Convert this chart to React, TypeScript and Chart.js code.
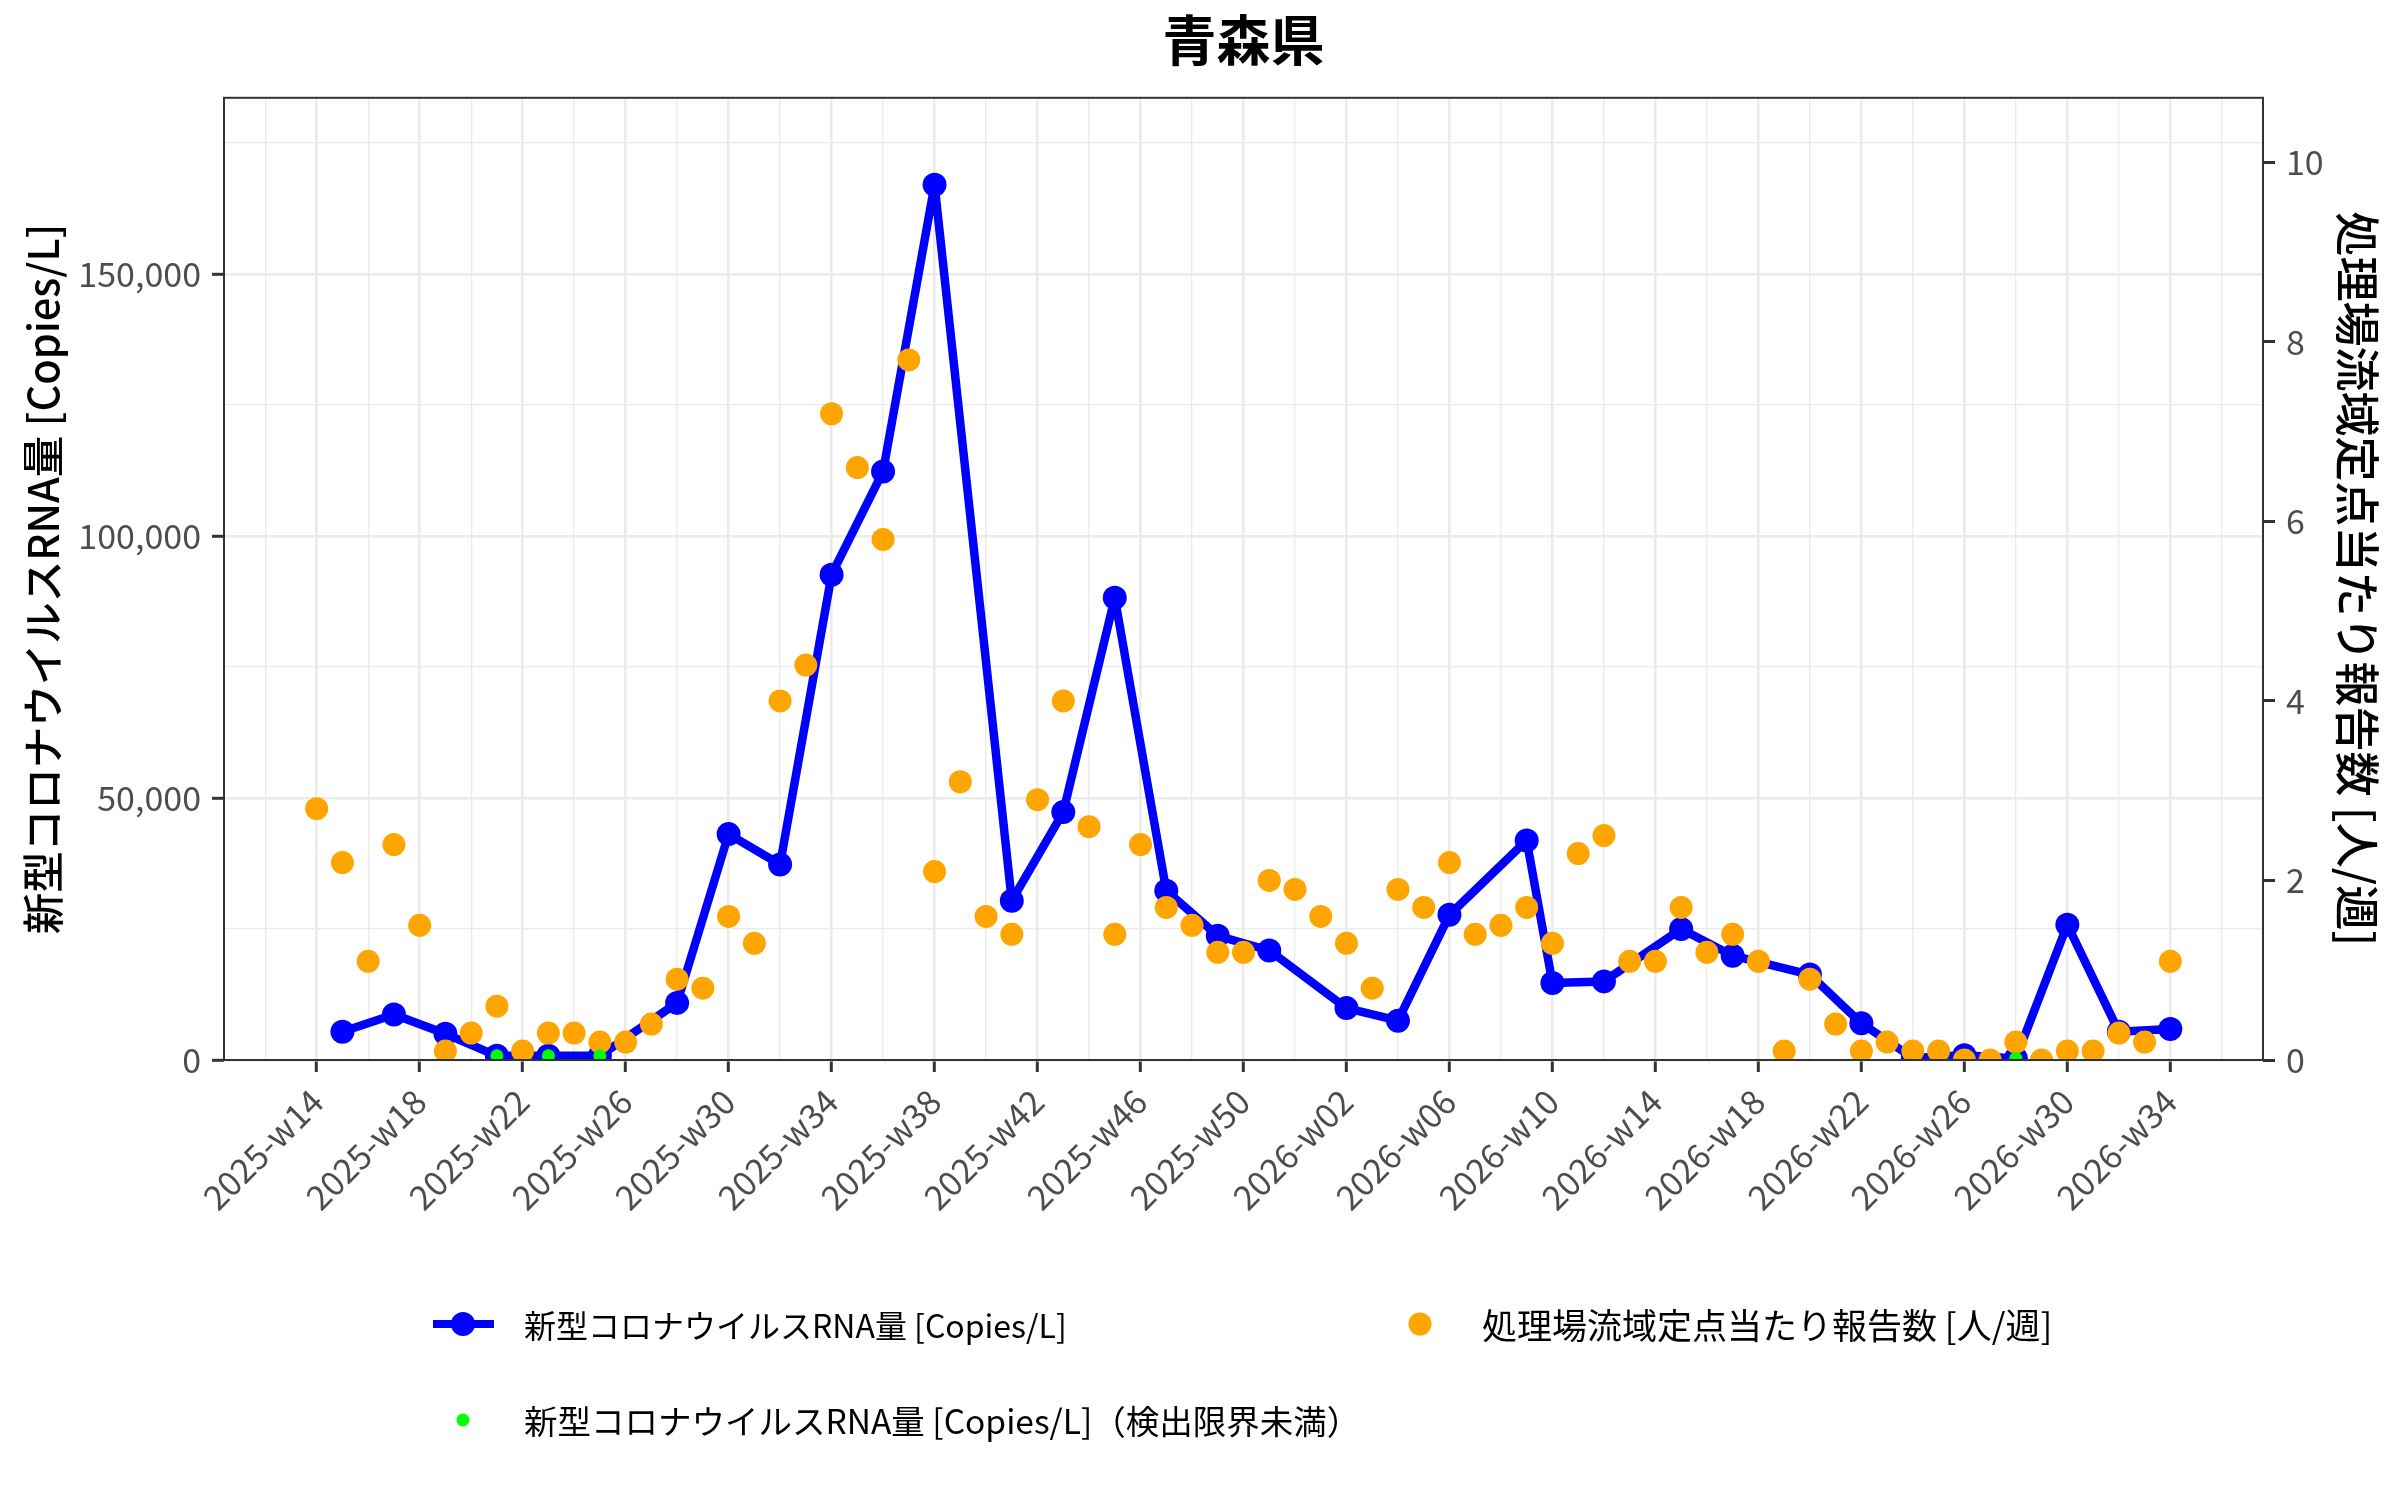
import React, { useEffect, useRef } from 'react';
import { Chart, registerables } from 'chart.js';

Chart.register(...registerables);

const FONT = '"Noto Sans CJK JP", "Noto Sans", sans-serif';

// one category per ISO week, 2025-w14 .. 2026-w34
const weeks: string[] = [];
for (let w = 14; w <= 52; w++) weeks.push(`2025-w${String(w).padStart(2, '0')}`);
for (let w = 1; w <= 34; w++) weeks.push(`2026-w${String(w).padStart(2, '0')}`);

const xTickLabels = [
  '2025-w14', '2025-w18', '2025-w22', '2025-w26', '2025-w30', '2025-w34', '2025-w38',
  '2025-w42', '2025-w46', '2025-w50', '2026-w02', '2026-w06', '2026-w10', '2026-w14',
  '2026-w18', '2026-w22', '2026-w26', '2026-w30', '2026-w34',
];

const rnaWeeks = [
  '2025-w15', '2025-w17', '2025-w19', '2025-w21', '2025-w23', '2025-w25', '2025-w28',
  '2025-w30', '2025-w32', '2025-w34', '2025-w36', '2025-w38', '2025-w41', '2025-w43',
  '2025-w45', '2025-w47', '2025-w49', '2025-w51', '2026-w02', '2026-w04', '2026-w06',
  '2026-w09', '2026-w10', '2026-w12', '2026-w15', '2026-w17', '2026-w20', '2026-w22',
  '2026-w24', '2026-w26', '2026-w28', '2026-w30', '2026-w32', '2026-w34',
];
const rnaValues = [
  5400, 8700, 5000, 800, 800, 800, 10900,
  43100, 37300, 92600, 112300, 167000, 30400, 47300,
  88200, 32300, 23700, 20900, 9900, 7500, 27700,
  41900, 14700, 15000, 25000, 19900, 16300, 7000,
  400, 900, 300, 25800, 5400, 5900,
];

// below the detection limit
const belowLimitWeeks = ['2025-w21', '2025-w23', '2025-w25', '2026-w28'];
const belowLimitValues = [800, 800, 800, 300];

// reports per sentinel site, one per week in `weeks`
const reportValues = [
  2.8, 2.2, 1.1, 2.4, 1.5, 0.1, 0.3, 0.6, 0.1, 0.3, 0.3, 0.2, 0.2, 0.4, 0.9, 0.8,
  1.6, 1.3, 4.0, 4.4, 7.2, 6.6, 5.8, 7.8, 2.1, 3.1, 1.6, 1.4, 2.9, 4.0, 2.6, 1.4,
  2.4, 1.7, 1.5, 1.2, 1.2, 2.0, 1.9, 1.6, 1.3, 0.8, 1.9, 1.7, 2.2, 1.4, 1.5, 1.7,
  1.3, 2.3, 2.5, 1.1, 1.1, 1.7, 1.2, 1.4, 1.1, 0.1, 0.9, 0.4, 0.1, 0.2, 0.1, 0.1,
  0.0, 0.0, 0.2, 0.0, 0.1, 0.1, 0.3, 0.2, 1.1,
];

const leftTicks = [0, 50000, 100000, 150000];
const rightTicks = [0, 2, 4, 6, 8, 10];

const RNA_LABEL = '新型コロナウイルスRNA量 [Copies/L]';
const LIMIT_LABEL = '新型コロナウイルスRNA量 [Copies/L]（検出限界未満）';
const REPORT_LABEL = '処理場流域定点当たり報告数 [人/週]';

const GRID = '#ebebeb';
const DARK = '#333333';
const TICK_TEXT = '#4d4d4d';

const panelBorder = {
  id: 'panelBorder',
  afterDatasetsDraw(chart: Chart) {
    const { ctx, chartArea } = chart;
    ctx.save();
    ctx.strokeStyle = DARK;
    ctx.lineWidth = 2;
    ctx.strokeRect(chartArea.left, chartArea.top, chartArea.right - chartArea.left, chartArea.bottom - chartArea.top);
    ctx.restore();
  },
};

const App: React.FC = () => {
  const canvasRef = useRef<HTMLCanvasElement | null>(null);

  useEffect(() => {
    document.body.style.margin = '0';
    if (!canvasRef.current) return;

    const idx = (w: string) => weeks.indexOf(w);

    const chart = new Chart(canvasRef.current, {
      type: 'line',
      data: {
        datasets: [
          {
            label: RNA_LABEL,
            data: rnaWeeks.map((w, i) => ({ x: idx(w), y: rnaValues[i] })),
            yAxisID: 'y',
            borderColor: '#0000ff',
            backgroundColor: '#0000ff',
            borderWidth: 8.5,
            borderJoinStyle: 'round',
            borderCapStyle: 'round',
            pointRadius: 12,
            pointBorderWidth: 0,
            pointHoverRadius: 12,
            tension: 0,
            clip: 0,
            order: 3,
          },
          {
            label: REPORT_LABEL,
            data: reportValues.map((v, i) => ({ x: i, y: v })),
            yAxisID: 'y2',
            showLine: false,
            borderColor: '#ffa500',
            backgroundColor: '#ffa500',
            pointRadius: 11.5,
            pointBorderWidth: 0,
            pointHoverRadius: 11.5,
            clip: 0,
            order: 2,
          },
          {
            label: LIMIT_LABEL,
            data: belowLimitWeeks.map((w, i) => ({ x: idx(w), y: belowLimitValues[i] })),
            yAxisID: 'y',
            showLine: false,
            borderColor: '#00ff00',
            backgroundColor: '#00ff00',
            pointRadius: 6.5,
            pointBorderWidth: 0,
            pointHoverRadius: 6.5,
            clip: 0,
            order: 1,
          },
        ],
      },
      options: {
        responsive: false,
        animation: false,
        devicePixelRatio: 1,
        layout: { padding: { left: 0, right: 0, top: 0, bottom: 240 } },
        plugins: {
          legend: { display: false },
          tooltip: { enabled: false },
          title: {
            display: true,
            text: '青森県',
            fullSize: false,
            color: '#000',
            font: { family: FONT, size: 54, weight: 'bold' },
            padding: { top: 8, bottom: 25 },
          },
        },
        scales: {
          x: {
            type: 'linear',
            min: -3.6,
            max: 75.6,
            afterBuildTicks: (s: any) => {
              const t = [];
              for (let v = -2; v <= 74; v += 2) t.push({ value: v });
              s.ticks = t;
            },
            afterFit: (s: any) => {
              s.height = 200;
            },
            ticks: {
              autoSkip: false,
              minRotation: 45,
              maxRotation: 45,
              padding: 9,
              color: TICK_TEXT,
              font: { family: FONT, size: 34 },
              callback: (v: any) => {
                const w = weeks[v as number];
                return w && xTickLabels.includes(w) ? w : '';
              },
            },
            grid: {
              color: GRID,
              lineWidth: (c: any) => (c.tick && c.tick.value % 4 === 0 ? 2.6 : 1.3),
              tickLength: 12,
              tickWidth: 3,
              tickColor: (c: any) => (c.tick && c.tick.value % 4 === 0 ? DARK : 'rgba(0,0,0,0)'),
            },
            border: { display: false },
          },
          y: {
            type: 'linear',
            position: 'left',
            min: 0,
            max: 183600,
            afterBuildTicks: (s: any) => {
              const t = [];
              for (let v = 0; v <= 175000; v += 25000) t.push({ value: v });
              s.ticks = t;
            },
            afterFit: (s: any) => {
              s.width = 224;
            },
            ticks: {
              padding: 11,
              color: TICK_TEXT,
              font: { family: FONT, size: 34 },
              callback: (v: any) => (leftTicks.includes(v) ? Number(v).toLocaleString('en-US') : ''),
            },
            grid: {
              color: GRID,
              lineWidth: (c: any) => (c.tick && leftTicks.includes(c.tick.value) ? 2.6 : 1.3),
              tickLength: 12,
              tickWidth: 3,
              tickColor: (c: any) => (c.tick && leftTicks.includes(c.tick.value) ? DARK : 'rgba(0,0,0,0)'),
            },
            border: { display: false },
            title: {
              display: true,
              text: RNA_LABEL,
              color: '#000',
              font: { family: FONT, size: 41.5, weight: 500 },
              padding: { top: 18, bottom: 0 },
            },
          },
          y2: {
            type: 'linear',
            position: 'right',
            min: 0,
            max: 10.72,
            afterBuildTicks: (s: any) => {
              s.ticks = rightTicks.map((v) => ({ value: v }));
            },
            afterFit: (s: any) => {
              s.width = 137;
            },
            ticks: {
              padding: 11,
              color: TICK_TEXT,
              font: { family: FONT, size: 34 },
            },
            grid: {
              drawOnChartArea: false,
              tickLength: 12,
              tickWidth: 3,
              tickColor: DARK,
            },
            border: { display: false },
            title: {
              display: true,
              text: REPORT_LABEL,
              color: '#000',
              font: { family: FONT, size: 45, weight: 500 },
              padding: { top: 16, bottom: 0 },
            },
          },
        },
      },
      plugins: [panelBorder],
    } as any);

    return () => {
      chart.destroy();
    };
  }, []);

  const legendText: React.CSSProperties = {
    position: 'absolute',
    fontFamily: FONT,
    color: '#000',
    lineHeight: '40px',
    whiteSpace: 'nowrap',
  };

  return (
    <div style={{ position: 'relative', width: 2400, height: 1500, background: '#fff' }}>
      <canvas ref={canvasRef} width={2400} height={1500} style={{ position: 'absolute', left: 0, top: 0 }} />
      <svg width={2400} height={1500} style={{ position: 'absolute', left: 0, top: 0, pointerEvents: 'none' }}>
        <line x1={433} y1={1324} x2={494} y2={1324} stroke="#0000ff" strokeWidth={8} />
        <circle cx={463} cy={1324} r={12} fill="#0000ff" />
        <circle cx={1420} cy={1324} r={11.5} fill="#ffa500" />
        <circle cx={463} cy={1420} r={6.5} fill="#00ff00" />
      </svg>
      <div style={{ ...legendText, fontSize: 32, left: 524, top: 1304 }}>{RNA_LABEL}</div>
      <div style={{ ...legendText, fontSize: 35, left: 1482, top: 1304 }}>{REPORT_LABEL}</div>
      <div style={{ ...legendText, fontSize: 33.5, left: 524, top: 1400 }}>{LIMIT_LABEL}</div>
    </div>
  );
};

export default App;
